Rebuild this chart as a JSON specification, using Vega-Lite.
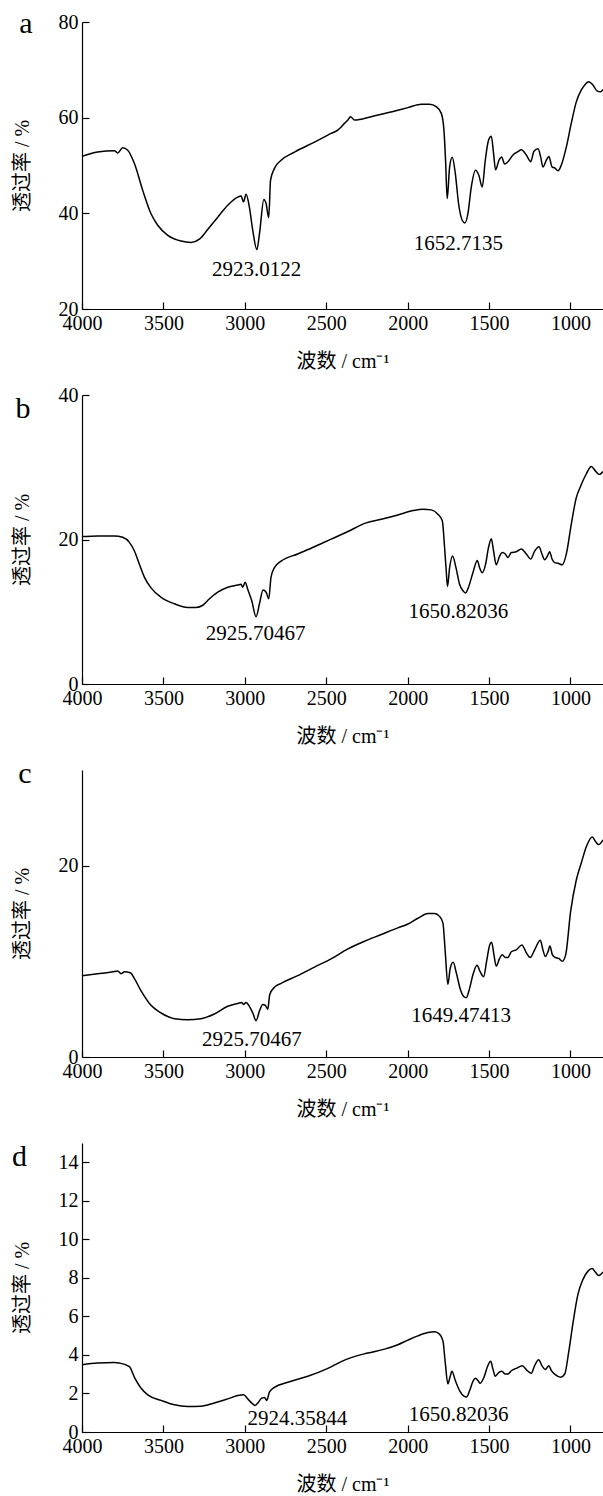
{
  "$schema": "https://vega.github.io/schema/vega-lite/v6.json",
  "padding": {"left": 11, "top": 9, "right": 0, "bottom": 0},
  "background": "white",
  "config": {
    "view": {"stroke": null},
    "font": "Liberation Serif, Noto Sans CJK SC",
    "axis": {
      "grid": false,
      "domainColor": "black",
      "domainWidth": 1.2,
      "tickColor": "black",
      "tickWidth": 1.2,
      "tickSize": -7,
      "labelColor": "black",
      "labelFont": "Liberation Serif",
      "labelFontSize": 20,
      "labelPadding": 11,
      "labelFlush": false,
      "labelOverlap": false,
      "titleColor": "black",
      "titleFont": "Liberation Serif, Noto Sans CJK SC",
      "titleFontSize": 20,
      "titleFontWeight": "normal"
    }
  },
  "datasets": {
    "a": [
      {"wn":4000,"T":51.9},{"wn":3904,"T":52.8},{"wn":3801,"T":53.1},{"wn":3781,"T":52.6},{"wn":3750,"T":53.7},{"wn":3719,"T":53.2},{"wn":3678,"T":50.4},{"wn":3627,"T":44.8},{"wn":3576,"T":39.9},{"wn":3535,"T":37.5},{"wn":3473,"T":35.4},{"wn":3392,"T":34.2},{"wn":3330,"T":33.9},{"wn":3279,"T":34.6},{"wn":3228,"T":36.6},{"wn":3166,"T":39.2},{"wn":3105,"T":41.7},{"wn":3043,"T":43.4},{"wn":3023,"T":43.6},{"wn":3008,"T":42.4},{"wn":2992,"T":44.0},{"wn":2972,"T":41.3},{"wn":2951,"T":36.4},{"wn":2926,"T":32.4},{"wn":2910,"T":35.7},{"wn":2883,"T":42.9},{"wn":2869,"T":42.0},{"wn":2853,"T":39.1},{"wn":2842,"T":46.9},{"wn":2818,"T":49.4},{"wn":2777,"T":51.1},{"wn":2695,"T":52.8},{"wn":2572,"T":54.9},{"wn":2470,"T":56.7},{"wn":2429,"T":57.4},{"wn":2388,"T":58.8},{"wn":2367,"T":59.5},{"wn":2351,"T":60.2},{"wn":2326,"T":59.5},{"wn":2224,"T":60.2},{"wn":2101,"T":61.2},{"wn":1998,"T":62.1},{"wn":1916,"T":62.8},{"wn":1865,"T":62.8},{"wn":1824,"T":62.3},{"wn":1793,"T":60.9},{"wn":1777,"T":57.4},{"wn":1767,"T":51.1},{"wn":1757,"T":43.1},{"wn":1742,"T":49.7},{"wn":1726,"T":51.7},{"wn":1707,"T":48.3},{"wn":1687,"T":42.0},{"wn":1664,"T":38.5},{"wn":1648,"T":38.0},{"wn":1630,"T":39.9},{"wn":1609,"T":45.5},{"wn":1583,"T":49.0},{"wn":1562,"T":47.9},{"wn":1542,"T":45.5},{"wn":1523,"T":51.1},{"wn":1503,"T":55.3},{"wn":1486,"T":56.1},{"wn":1472,"T":52.5},{"wn":1460,"T":49.1},{"wn":1439,"T":51.1},{"wn":1423,"T":51.8},{"wn":1404,"T":50.3},{"wn":1384,"T":50.8},{"wn":1353,"T":52.2},{"wn":1322,"T":52.9},{"wn":1302,"T":53.3},{"wn":1271,"T":52.2},{"wn":1244,"T":50.8},{"wn":1224,"T":53.0},{"wn":1199,"T":53.5},{"wn":1183,"T":51.8},{"wn":1169,"T":49.7},{"wn":1148,"T":51.1},{"wn":1132,"T":51.9},{"wn":1113,"T":49.7},{"wn":1097,"T":49.5},{"wn":1076,"T":48.9},{"wn":1056,"T":50.1},{"wn":1025,"T":53.9},{"wn":995,"T":58.8},{"wn":964,"T":63.3},{"wn":933,"T":65.8},{"wn":908,"T":67.0},{"wn":888,"T":67.5},{"wn":861,"T":66.8},{"wn":837,"T":65.6},{"wn":814,"T":65.4},{"wn":800,"T":65.9}
    ],
    "b": [
      {"wn":4000,"T":20.4},{"wn":3904,"T":20.5},{"wn":3801,"T":20.5},{"wn":3750,"T":20.3},{"wn":3709,"T":19.6},{"wn":3678,"T":18.4},{"wn":3648,"T":16.6},{"wn":3617,"T":14.8},{"wn":3576,"T":13.3},{"wn":3514,"T":12.0},{"wn":3432,"T":11.1},{"wn":3351,"T":10.6},{"wn":3299,"T":10.6},{"wn":3258,"T":10.9},{"wn":3217,"T":11.8},{"wn":3166,"T":12.7},{"wn":3105,"T":13.4},{"wn":3043,"T":13.7},{"wn":3023,"T":13.8},{"wn":3013,"T":13.4},{"wn":2998,"T":14.1},{"wn":2982,"T":13.1},{"wn":2957,"T":11.5},{"wn":2931,"T":9.3},{"wn":2910,"T":11.1},{"wn":2888,"T":13.0},{"wn":2869,"T":12.7},{"wn":2853,"T":11.8},{"wn":2839,"T":14.8},{"wn":2818,"T":16.1},{"wn":2777,"T":17.0},{"wn":2675,"T":18.0},{"wn":2572,"T":19.0},{"wn":2470,"T":20.05},{"wn":2367,"T":21.1},{"wn":2255,"T":22.3},{"wn":2162,"T":22.8},{"wn":2060,"T":23.4},{"wn":1968,"T":24.0},{"wn":1906,"T":24.2},{"wn":1855,"T":24.1},{"wn":1814,"T":23.5},{"wn":1787,"T":22.6},{"wn":1773,"T":18.9},{"wn":1763,"T":15.7},{"wn":1755,"T":13.5},{"wn":1742,"T":16.1},{"wn":1724,"T":17.7},{"wn":1703,"T":16.1},{"wn":1681,"T":13.8},{"wn":1660,"T":12.9},{"wn":1644,"T":12.6},{"wn":1626,"T":13.4},{"wn":1599,"T":15.4},{"wn":1572,"T":17.1},{"wn":1558,"T":16.1},{"wn":1542,"T":15.4},{"wn":1521,"T":16.6},{"wn":1503,"T":18.9},{"wn":1486,"T":20.1},{"wn":1472,"T":18.4},{"wn":1456,"T":16.5},{"wn":1435,"T":17.7},{"wn":1419,"T":18.2},{"wn":1400,"T":18.0},{"wn":1384,"T":17.5},{"wn":1363,"T":18.2},{"wn":1333,"T":18.3},{"wn":1302,"T":18.7},{"wn":1271,"T":18.0},{"wn":1244,"T":17.3},{"wn":1220,"T":18.4},{"wn":1193,"T":19.0},{"wn":1175,"T":18.0},{"wn":1158,"T":17.2},{"wn":1142,"T":17.7},{"wn":1128,"T":18.3},{"wn":1113,"T":17.3},{"wn":1097,"T":16.8},{"wn":1076,"T":16.7},{"wn":1050,"T":16.5},{"wn":1025,"T":18.0},{"wn":995,"T":22.1},{"wn":964,"T":25.8},{"wn":937,"T":27.4},{"wn":902,"T":29.1},{"wn":872,"T":30.1},{"wn":847,"T":29.5},{"wn":824,"T":29.0},{"wn":800,"T":29.4}
    ],
    "c": [
      {"wn":4000,"T":8.5},{"wn":3904,"T":8.7},{"wn":3811,"T":8.9},{"wn":3781,"T":9.0},{"wn":3760,"T":8.7},{"wn":3740,"T":8.9},{"wn":3703,"T":8.8},{"wn":3678,"T":8.2},{"wn":3637,"T":6.9},{"wn":3586,"T":5.6},{"wn":3514,"T":4.6},{"wn":3432,"T":4.0},{"wn":3351,"T":3.9},{"wn":3269,"T":4.0},{"wn":3187,"T":4.5},{"wn":3105,"T":5.3},{"wn":3043,"T":5.6},{"wn":3019,"T":5.7},{"wn":3008,"T":5.5},{"wn":2992,"T":5.7},{"wn":2972,"T":5.3},{"wn":2951,"T":4.6},{"wn":2931,"T":3.8},{"wn":2910,"T":4.8},{"wn":2890,"T":5.5},{"wn":2874,"T":5.4},{"wn":2859,"T":5.0},{"wn":2847,"T":6.5},{"wn":2818,"T":7.3},{"wn":2777,"T":7.7},{"wn":2675,"T":8.5},{"wn":2572,"T":9.4},{"wn":2470,"T":10.25},{"wn":2367,"T":11.3},{"wn":2265,"T":12.1},{"wn":2162,"T":12.8},{"wn":2060,"T":13.5},{"wn":1998,"T":13.9},{"wn":1937,"T":14.5},{"wn":1875,"T":15.0},{"wn":1834,"T":15.0},{"wn":1804,"T":14.7},{"wn":1783,"T":14.0},{"wn":1769,"T":11.0},{"wn":1753,"T":7.6},{"wn":1738,"T":9.3},{"wn":1720,"T":9.9},{"wn":1701,"T":8.8},{"wn":1675,"T":7.0},{"wn":1654,"T":6.3},{"wn":1640,"T":6.2},{"wn":1619,"T":7.2},{"wn":1599,"T":8.6},{"wn":1574,"T":9.6},{"wn":1554,"T":8.9},{"wn":1533,"T":8.4},{"wn":1515,"T":10.0},{"wn":1496,"T":11.7},{"wn":1484,"T":12.0},{"wn":1470,"T":10.7},{"wn":1456,"T":9.5},{"wn":1435,"T":10.3},{"wn":1419,"T":10.7},{"wn":1400,"T":10.4},{"wn":1384,"T":10.4},{"wn":1363,"T":11.0},{"wn":1333,"T":11.2},{"wn":1298,"T":11.7},{"wn":1271,"T":10.9},{"wn":1247,"T":10.4},{"wn":1220,"T":11.2},{"wn":1185,"T":12.2},{"wn":1169,"T":11.2},{"wn":1154,"T":10.5},{"wn":1138,"T":11.0},{"wn":1126,"T":11.6},{"wn":1111,"T":10.7},{"wn":1093,"T":10.4},{"wn":1072,"T":10.3},{"wn":1050,"T":10.0},{"wn":1029,"T":10.7},{"wn":999,"T":15.2},{"wn":964,"T":18.5},{"wn":933,"T":20.3},{"wn":902,"T":22.0},{"wn":866,"T":23.0},{"wn":845,"T":22.5},{"wn":827,"T":22.2},{"wn":800,"T":22.7}
    ],
    "d": [
      {"wn":4000,"T":3.49},{"wn":3904,"T":3.58},{"wn":3801,"T":3.61},{"wn":3770,"T":3.58},{"wn":3709,"T":3.39},{"wn":3678,"T":2.84},{"wn":3637,"T":2.27},{"wn":3596,"T":1.93},{"wn":3514,"T":1.64},{"wn":3432,"T":1.41},{"wn":3351,"T":1.33},{"wn":3269,"T":1.34},{"wn":3187,"T":1.51},{"wn":3105,"T":1.72},{"wn":3043,"T":1.89},{"wn":3007,"T":1.93},{"wn":2982,"T":1.72},{"wn":2957,"T":1.5},{"wn":2937,"T":1.38},{"wn":2916,"T":1.55},{"wn":2896,"T":1.76},{"wn":2879,"T":1.79},{"wn":2865,"T":1.64},{"wn":2849,"T":2.07},{"wn":2818,"T":2.32},{"wn":2736,"T":2.58},{"wn":2613,"T":2.89},{"wn":2490,"T":3.3},{"wn":2408,"T":3.65},{"wn":2347,"T":3.86},{"wn":2244,"T":4.1},{"wn":2142,"T":4.3},{"wn":2060,"T":4.53},{"wn":1998,"T":4.77},{"wn":1937,"T":4.99},{"wn":1875,"T":5.16},{"wn":1834,"T":5.2},{"wn":1804,"T":5.08},{"wn":1783,"T":4.73},{"wn":1769,"T":3.61},{"wn":1753,"T":2.5},{"wn":1740,"T":2.84},{"wn":1728,"T":3.15},{"wn":1707,"T":2.67},{"wn":1681,"T":2.15},{"wn":1654,"T":1.86},{"wn":1638,"T":1.82},{"wn":1619,"T":2.15},{"wn":1599,"T":2.63},{"wn":1583,"T":2.79},{"wn":1568,"T":2.67},{"wn":1554,"T":2.53},{"wn":1531,"T":2.84},{"wn":1511,"T":3.36},{"wn":1490,"T":3.67},{"wn":1476,"T":3.27},{"wn":1462,"T":2.89},{"wn":1439,"T":3.1},{"wn":1421,"T":3.15},{"wn":1400,"T":3.01},{"wn":1384,"T":3.01},{"wn":1363,"T":3.18},{"wn":1333,"T":3.3},{"wn":1296,"T":3.44},{"wn":1265,"T":3.18},{"wn":1240,"T":3.05},{"wn":1220,"T":3.44},{"wn":1195,"T":3.75},{"wn":1175,"T":3.44},{"wn":1154,"T":3.24},{"wn":1142,"T":3.36},{"wn":1132,"T":3.44},{"wn":1117,"T":3.18},{"wn":1093,"T":2.98},{"wn":1060,"T":2.84},{"wn":1035,"T":3.01},{"wn":1011,"T":4.13},{"wn":984,"T":5.68},{"wn":954,"T":7.14},{"wn":923,"T":7.92},{"wn":892,"T":8.35},{"wn":867,"T":8.49},{"wn":847,"T":8.3},{"wn":827,"T":8.12},{"wn":800,"T":8.3}
    ],
    "ann": [
      {"panel":"a","label":"2923.0122","wn":2928,"T":26.8},
      {"panel":"a","label":"1652.7135","wn":1688,"T":32.25},
      {"panel":"b","label":"2925.70467","wn":2934,"T":6.1},
      {"panel":"b","label":"1650.82036","wn":1689,"T":9.2},
      {"panel":"c","label":"2925.70467","wn":2957,"T":1.18},
      {"panel":"c","label":"1649.47413","wn":1671,"T":3.65},
      {"panel":"d","label":"2924.35844","wn":2677,"T":0.34},
      {"panel":"d","label":"1650.82036","wn":1686,"T":0.55}
    ],
    "letters": [
      {"panel":"a","label":"a","wn":4344,"T":77.7},
      {"panel":"b","label":"b","wn":4363,"T":36.8},
      {"panel":"c","label":"c","wn":4351,"T":28.6},
      {"panel":"d","label":"d","wn":4384,"T":13.8}
    ]
  },
  "vconcat": [
    {
      "width": 521, "height": 287,
      "encoding": {
        "x": {"field":"wn","type":"quantitative","scale":{"domain":[4000,800],"nice":false,"zero":false},
              "axis":{"title":"波数 / cm⁻¹","values":[4000,3500,3000,2500,2000,1500,1000],"format":"d","titleY":52,"titleBaseline":"middle"}},
        "y": {"field":"T","type":"quantitative","scale":{"domain":[20,80],"nice":false,"zero":false},
              "axis":{"title":"透过率 / %","values":[20,40,60,80],"format":"d","titleX":-60,"titleY":143.5,"titleBaseline":"middle"}}
      },
      "layer": [
        {"data":{"name":"a"},"mark":{"type":"line","color":"black","strokeWidth":1.5,"interpolate":"monotone"},"encoding":{"order":{"value":null}}},
        {"data":{"name":"ann"},"transform":[{"filter":"datum.panel === 'a'"}],"mark":{"type":"text","fontSize":21,"align":"center","baseline":"alphabetic","color":"black","font":"Liberation Serif"},"encoding":{"text":{"field":"label"}}},
        {"data":{"name":"letters"},"transform":[{"filter":"datum.panel === 'a'"}],"mark":{"type":"text","fontSize":30,"align":"center","baseline":"alphabetic","color":"black","font":"Liberation Serif"},"encoding":{"text":{"field":"label"}}}
      ]
    },
    {
      "width": 521, "height": 289,
      "encoding": {
        "x": {"field":"wn","type":"quantitative","scale":{"domain":[4000,800],"nice":false,"zero":false},
              "axis":{"title":"波数 / cm⁻¹","values":[4000,3500,3000,2500,2000,1500,1000],"format":"d","titleY":52,"titleBaseline":"middle"}},
        "y": {"field":"T","type":"quantitative","scale":{"domain":[0,40],"nice":false,"zero":false},
              "axis":{"title":"透过率 / %","values":[0,20,40],"format":"d","titleX":-60,"titleY":144.5,"titleBaseline":"middle"}}
      },
      "layer": [
        {"data":{"name":"b"},"mark":{"type":"line","color":"black","strokeWidth":1.5,"interpolate":"monotone"},"encoding":{"order":{"value":null}}},
        {"data":{"name":"ann"},"transform":[{"filter":"datum.panel === 'b'"}],"mark":{"type":"text","fontSize":21,"align":"center","baseline":"alphabetic","color":"black","font":"Liberation Serif"},"encoding":{"text":{"field":"label"}}},
        {"data":{"name":"letters"},"transform":[{"filter":"datum.panel === 'b'"}],"mark":{"type":"text","fontSize":30,"align":"center","baseline":"alphabetic","color":"black","font":"Liberation Serif"},"encoding":{"text":{"field":"label"}}}
      ]
    },
    {
      "width": 521, "height": 287,
      "encoding": {
        "x": {"field":"wn","type":"quantitative","scale":{"domain":[4000,800],"nice":false,"zero":false},
              "axis":{"title":"波数 / cm⁻¹","values":[4000,3500,3000,2500,2000,1500,1000],"format":"d","titleY":52,"titleBaseline":"middle"}},
        "y": {"field":"T","type":"quantitative","scale":{"domain":[0,30],"nice":false,"zero":false},
              "axis":{"title":"透过率 / %","values":[0,20],"format":"d","titleX":-60,"titleY":143.5,"titleBaseline":"middle"}}
      },
      "layer": [
        {"data":{"name":"c"},"mark":{"type":"line","color":"black","strokeWidth":1.5,"interpolate":"monotone"},"encoding":{"order":{"value":null}}},
        {"data":{"name":"ann"},"transform":[{"filter":"datum.panel === 'c'"}],"mark":{"type":"text","fontSize":21,"align":"center","baseline":"alphabetic","color":"black","font":"Liberation Serif"},"encoding":{"text":{"field":"label"}}},
        {"data":{"name":"letters"},"transform":[{"filter":"datum.panel === 'c'"}],"mark":{"type":"text","fontSize":30,"align":"center","baseline":"alphabetic","color":"black","font":"Liberation Serif"},"encoding":{"text":{"field":"label"}}}
      ]
    },
    {
      "width": 521, "height": 289,
      "encoding": {
        "x": {"field":"wn","type":"quantitative","scale":{"domain":[4000,800],"nice":false,"zero":false},
              "axis":{"title":"波数 / cm⁻¹","values":[4000,3500,3000,2500,2000,1500,1000],"format":"d","titleY":52,"titleBaseline":"middle"}},
        "y": {"field":"T","type":"quantitative","scale":{"domain":[0,15],"nice":false,"zero":false},
              "axis":{"title":"透过率 / %","values":[0,2,4,6,8,10,12,14],"format":"d","titleX":-60,"titleY":144.5,"titleBaseline":"middle"}}
      },
      "layer": [
        {"data":{"name":"d"},"mark":{"type":"line","color":"black","strokeWidth":1.5,"interpolate":"monotone"},"encoding":{"order":{"value":null}}},
        {"data":{"name":"ann"},"transform":[{"filter":"datum.panel === 'd'"}],"mark":{"type":"text","fontSize":21,"align":"center","baseline":"alphabetic","color":"black","font":"Liberation Serif"},"encoding":{"text":{"field":"label"}}},
        {"data":{"name":"letters"},"transform":[{"filter":"datum.panel === 'd'"}],"mark":{"type":"text","fontSize":30,"align":"center","baseline":"alphabetic","color":"black","font":"Liberation Serif"},"encoding":{"text":{"field":"label"}}}
      ]
    }
  ],
  "spacing": 86,
  "bounds": "flush"
}
